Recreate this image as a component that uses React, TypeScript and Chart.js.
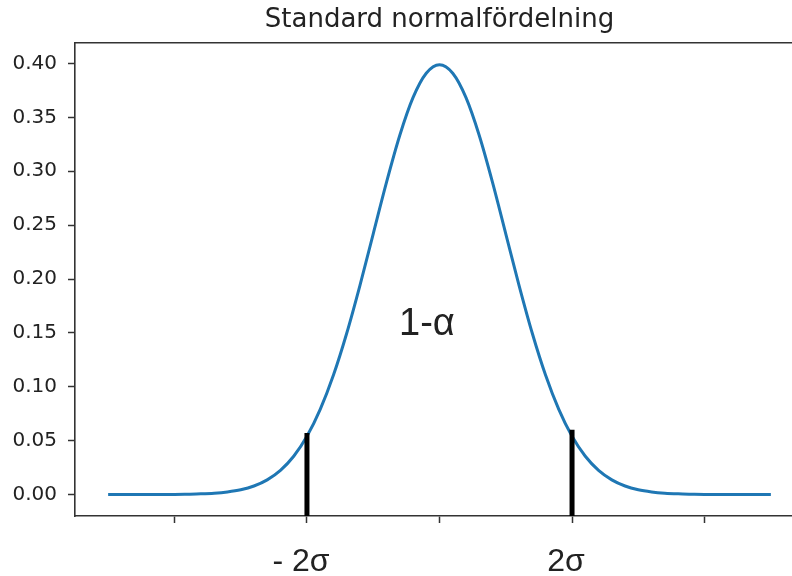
import { useEffect, useRef } from "react";
import { Chart, registerables } from "chart.js";

Chart.register(...registerables);

// Standard normal density, sampled every 0.2 from -5 to 5
const zValues = [
  -5, -4.8, -4.6, -4.4, -4.2, -4, -3.8, -3.6, -3.4, -3.2, -3, -2.8, -2.6, -2.4, -2.2, -2, -1.8, -1.6, -1.4, -1.2, -1,
  -0.8, -0.6, -0.4, -0.2, 0, 0.2, 0.4, 0.6, 0.8, 1, 1.2, 1.4, 1.6, 1.8, 2, 2.2, 2.4, 2.6, 2.8, 3, 3.2, 3.4, 3.6, 3.8,
  4, 4.2, 4.4, 4.6, 4.8, 5,
];
const densityValues = [
  0.0, 0.0, 0.0, 0.0, 0.0001, 0.0001, 0.0003, 0.0006, 0.0012, 0.0024, 0.0044, 0.0079, 0.0136, 0.0224, 0.0355, 0.054,
  0.079, 0.1109, 0.1497, 0.1942, 0.242, 0.2897, 0.3332, 0.3683, 0.391, 0.3989, 0.391, 0.3683, 0.3332, 0.2897, 0.242,
  0.1942, 0.1497, 0.1109, 0.079, 0.054, 0.0355, 0.0224, 0.0136, 0.0079, 0.0044, 0.0024, 0.0012, 0.0006, 0.0003, 0.0001,
  0.0001, 0.0, 0.0, 0.0, 0.0,
];

// Critical values and the heights of their markers
const criticalZ = [-2, 2];
const criticalTops = [0.057, 0.06];

// Axis ticks
const xTickValues = [-4, -2, 0, 2, 4];
const xTickLabels = ["", "- 2σ", "", "2σ", ""];
const yTickValues = [0, 0.05, 0.1, 0.15, 0.2, 0.25, 0.3, 0.35, 0.4];

const xRange = [-5.5, 5.5];
const yRange = [-0.01995, 0.41887];

const titleText = "Standard normalfördelning";
const areaLabel = "1-α";
const areaLabelAt = { x: -0.19, y: 0.148 };

const spineColor = "#333333";
const textColor = "#222222";

const areaLabelPlugin = {
  id: "areaLabel",
  afterDatasetsDraw(chart: any) {
    const { ctx, scales } = chart;
    const px = scales.x.getPixelForValue(areaLabelAt.x);
    const py = scales.y.getPixelForValue(areaLabelAt.y);
    ctx.save();
    ctx.font = "38px 'Liberation Sans', Arial, sans-serif";
    ctx.fillStyle = textColor;
    ctx.textAlign = "center";
    ctx.textBaseline = "alphabetic";
    ctx.fillText(areaLabel, px, py);
    ctx.restore();
  },
};

export default function App() {
  const canvasRef = useRef<HTMLCanvasElement | null>(null);

  useEffect(() => {
    const canvas = canvasRef.current;
    if (!canvas) return;

    const markerSets = criticalZ.map((z, i) => ({
      label: `z=${z}`,
      data: [
        { x: z, y: yRange[0] },
        { x: z, y: criticalTops[i] },
      ],
      borderColor: "#000000",
      borderWidth: 5,
      borderCapStyle: "butt",
      pointRadius: 0,
      fill: false,
    }));

    const chart = new Chart(canvas, {
      type: "line",
      data: {
        datasets: [
          ...markerSets,
          {
            label: "N(0,1)",
            data: zValues.map((z, i) => ({ x: z, y: densityValues[i] })),
            borderColor: "#1f77b4",
            borderWidth: 3,
            pointRadius: 0,
            cubicInterpolationMode: "monotone",
            fill: false,
          },
        ],
      },
      options: {
        animation: false,
        responsive: false,
        devicePixelRatio: 1,
        layout: { padding: 0 },
        plugins: {
          legend: { display: false },
          tooltip: { enabled: false },
          title: {
            display: true,
            fullSize: false,
            text: titleText,
            color: textColor,
            font: { family: "'DejaVu Sans', sans-serif", size: 26, weight: "normal", lineHeight: 1.2 },
            padding: { top: 5, bottom: 7 },
          },
        },
        scales: {
          x: {
            type: "linear",
            position: "bottom",
            min: xRange[0],
            max: xRange[1],
            afterBuildTicks: (scale: any) => {
              scale.ticks = xTickValues.map((v) => ({ value: v }));
            },
            afterFit: (scale: any) => {
              scale.height = 60;
            },
            grid: {
              display: true,
              drawOnChartArea: false,
              drawTicks: true,
              tickLength: 7,
              tickColor: spineColor,
              tickWidth: 1.5,
            },
            border: { display: true, color: spineColor, width: 1.6 },
            ticks: {
              autoSkip: false,
              maxRotation: 0,
              padding: 20,
              labelOffset: -6,
              color: textColor,
              font: { family: "'Liberation Sans', Arial, sans-serif", size: 32 },
              callback: (value: any) => {
                const i = xTickValues.indexOf(Number(value));
                return i >= 0 ? xTickLabels[i] : "";
              },
            },
          },
          xTop: {
            type: "linear",
            axis: "x",
            position: "top",
            min: xRange[0],
            max: xRange[1],
            afterFit: (scale: any) => {
              scale.height = 0;
            },
            grid: { display: false },
            border: { display: true, color: spineColor, width: 1.6 },
            ticks: { display: false },
          },
          y: {
            type: "linear",
            min: yRange[0],
            max: yRange[1],
            afterBuildTicks: (scale: any) => {
              scale.ticks = yTickValues.map((v) => ({ value: v }));
            },
            afterFit: (scale: any) => {
              scale.width = 75;
            },
            grid: {
              display: true,
              drawOnChartArea: false,
              drawTicks: true,
              tickLength: 7,
              tickColor: spineColor,
              tickWidth: 1.5,
            },
            border: { display: true, color: spineColor, width: 1.6 },
            ticks: {
              padding: 11,
              color: textColor,
              font: { family: "'DejaVu Sans', sans-serif", size: 20 },
              callback: (value: any) => Number(value).toFixed(2),
            },
          },
        },
      } as any,
      plugins: [areaLabelPlugin],
    });

    return () => chart.destroy();
  }, []);

  return (
    <div
      style={{
        position: "fixed",
        left: 0,
        top: 0,
        width: 792,
        height: 576,
        overflow: "hidden",
        background: "#ffffff",
      }}
    >
      <canvas ref={canvasRef} width={804} height={576} style={{ display: "block" }} />
    </div>
  );
}
